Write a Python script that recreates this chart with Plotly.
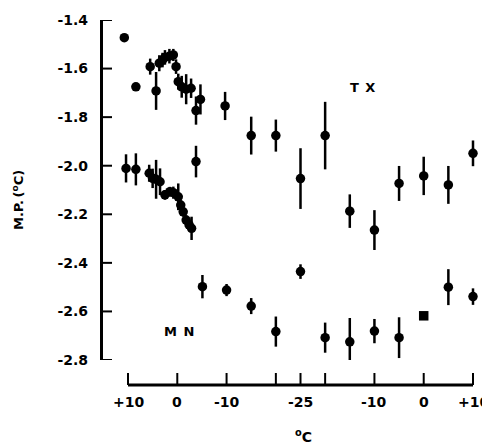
import plotly.graph_objects as go

# x positions along the temperature cycle (+10 -> -25 -> +10 C), 0..70 path units
tick_pos = [0, 10, 20, 30, 35, 40, 50, 60, 70]
tick_text = ["+10", "0", "-10", "", "-25", "", "-10", "0", "+10"]

y_ticks = [-2.8, -2.6, -2.4, -2.2, -2.0, -1.8, -1.6, -1.4]
y_tick_text = ["-2.8", "-2.6", "-2.4", "-2.2", "-2.0", "-1.8", "-1.6", "-1.4"]

# TX series
tx_pos = [-0.75, 1.6, 4.5, 5.7, 6.35, 7.0, 7.5, 8.4, 9.2, 9.75, 10.2, 10.9, 11.8, 12.8, 13.8, 14.7,
          19.7, 25, 30, 35, 40, 45, 50, 55, 60, 65, 70]
tx_mp = [-1.473, -1.675, -1.592, -1.692, -1.578, -1.565, -1.554, -1.549, -1.544, -1.592, -1.654,
         -1.675, -1.685, -1.681, -1.773, -1.727,
         -1.754, -1.876, -1.876, -2.053, -1.876, -2.187, -2.265, -2.073, -2.042, -2.079, -1.949]
tx_err = [0.008, 0.01, 0.033, 0.078, 0.033, 0.03, 0.03, 0.03, 0.025, 0.03, 0.033,
          0.045, 0.062, 0.04, 0.058, 0.062,
          0.058, 0.078, 0.066, 0.125, 0.139, 0.069, 0.082, 0.072, 0.079, 0.078, 0.053]

# MN series
mn_pos = [-0.4, 1.6, 4.3, 5.0, 5.7, 6.5, 7.5, 8.5, 9.2, 10.2, 10.7, 11.2, 11.8, 12.4, 12.9, 13.8,
          15.1, 20, 25, 30, 35, 40, 45, 50, 55, 60, 65, 70]
mn_mp = [-2.011, -2.015, -2.031, -2.052, -2.056, -2.066, -2.12, -2.107, -2.111, -2.128, -2.162,
         -2.19, -2.224, -2.244, -2.258, -1.983,
         -2.498, -2.512, -2.578, -2.683, -2.436, -2.708, -2.725, -2.681, -2.708, -2.618, -2.50, -2.539]
mn_err = [0.058, 0.066, 0.035, 0.04, 0.08, 0.055, 0.02, 0.02, 0.025, 0.055, 0.02,
          0.02, 0.02, 0.02, 0.048, 0.065,
          0.048, 0.025, 0.033, 0.062, 0.03, 0.062, 0.098, 0.05, 0.084, 0.0, 0.074, 0.034]
mn_symbol = ["circle"] * 25 + ["square"] + ["circle"] * 2

W, H = 490, 448
OFF = 8  # page body margin in the browser


def px_x(px):
    return (px - OFF) / W


def px_y(py):
    return 1 - (py - OFF) / H


# layout geometry (pixels in the window)
X0_PX, X70_PX = 128, 473      # where path positions 0 and 70 sit
YAX_PX = 100                  # y axis line
XAX_PX = 385                  # x axis line
Y_TOP_PX, Y_BOT_PX = 20, 360
DATA_LEFT_PX, DATA_RIGHT_PX = 60, 488
TICK = 12
scale = (X70_PX - X0_PX) / 70.0


def px_to_pos(px):
    return (px - X0_PX) / scale


data_range = [px_to_pos(DATA_LEFT_PX), px_to_pos(DATA_RIGHT_PX)]

bold = dict(family="DejaVu Sans", size=13, color="black", weight="bold")

fig = go.Figure()
for pos, mp, err, sym in [(tx_pos, tx_mp, tx_err, "circle"), (mn_pos, mn_mp, mn_err, mn_symbol)]:
    fig.add_trace(go.Scatter(
        x=pos, y=mp, mode="markers",
        marker=dict(color="black", size=9.5, symbol=sym, line=dict(width=0)),
        error_y=dict(type="data", array=err, visible=True, color="black", thickness=2.5, width=0),
        cliponaxis=False, showlegend=False, hoverinfo="skip",
    ))

shapes = []
# y axis line and its inward ticks
y_line_pos = px_to_pos(YAX_PX + 1.5)
shapes.append(dict(type="line", xref="x", yref="y", x0=y_line_pos, x1=y_line_pos,
                   y0=y_ticks[0], y1=y_ticks[-1], line=dict(color="black", width=3), layer="above"))
for v in y_ticks:
    shapes.append(dict(type="line", xref="x", yref="y", x0=px_to_pos(YAX_PX), x1=px_to_pos(YAX_PX + TICK),
                       y0=v, y1=v, line=dict(color="black", width=2), layer="above"))
# temperature axis line and its upward ticks
shapes.append(dict(type="line", xref="x", yref="paper", x0=tick_pos[0], x1=tick_pos[-1],
                   y0=px_y(XAX_PX), y1=px_y(XAX_PX), line=dict(color="black", width=3), layer="above"))
for p in tick_pos:
    shapes.append(dict(type="line", xref="x", yref="paper", x0=p, x1=p,
                       y0=px_y(XAX_PX), y1=px_y(XAX_PX - TICK), line=dict(color="black", width=2),
                       layer="above"))

annotations = [
    dict(x=47.5, y=-1.676, xref="x", yref="y", text="T\u2002X", showarrow=False, font=bold),
    dict(x=10.3, y=-2.681, xref="x", yref="y", text="M\u2002N", showarrow=False, font=bold),
    dict(x=px_x(18), y=px_y(200), xref="paper", yref="paper", text="M.P.\u2009(<sup>o</sup>C)",
         textangle=-90, showarrow=False, font=bold, xanchor="center", yanchor="middle"),
    dict(x=px_x(303), y=px_y(436), xref="paper", yref="paper", text="<sup>o</sup>C",
         showarrow=False, font=dict(bold, size=14), xanchor="center", yanchor="middle"),
]
for p, t in zip(tick_pos, tick_text):
    if t:
        annotations.append(dict(x=p, y=px_y(402), xref="x", yref="paper", text=t, showarrow=False,
                                font=dict(bold, size=14), xanchor="center", yanchor="middle"))

fig.update_layout(
    width=W, height=H, autosize=False,
    margin=dict(l=0, r=0, t=0, b=0, pad=0, autoexpand=False),
    paper_bgcolor="white", plot_bgcolor="rgba(0,0,0,0)",
    xaxis=dict(domain=[px_x(DATA_LEFT_PX), px_x(DATA_RIGHT_PX)], range=data_range, autorange=False,
               anchor="y", showline=False, showgrid=False, zeroline=False, ticks="",
               showticklabels=False),
    yaxis=dict(
        domain=[px_y(Y_BOT_PX), px_y(Y_TOP_PX)], range=[-2.8, -1.4], autorange=False,
        anchor="free", position=px_x(YAX_PX),
        showline=False, showgrid=False, zeroline=False,
        ticks="inside", ticklen=TICK, tickcolor="rgba(0,0,0,0)",
        tickmode="array", tickvals=y_ticks, ticktext=y_tick_text, tickfont=dict(bold, size=14),
        ticklabelstandoff=12, automargin=False,
    ),
    shapes=shapes,
    annotations=annotations,
)

fig.write_html("out.html")
